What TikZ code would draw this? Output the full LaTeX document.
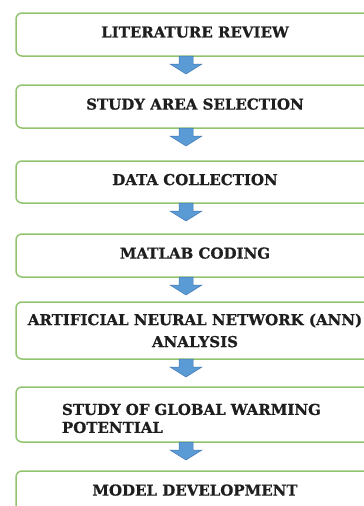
\documentclass[tikz,border=0pt]{standalone}
\usepackage{fontspec}
\setmainfont{DejaVu Serif}[BoldFeatures={FakeBold=0.8}]
\usetikzlibrary{positioning, calc}
\definecolor{boxgreen}{RGB}{146, 196, 111}
\definecolor{flowblue}{RGB}{91, 155, 213}
\definecolor{flowedge}{RGB}{65, 119, 178}
\definecolor{inkgray}{RGB}{30, 30, 30}
\tikzstyle{stage}  = [rectangle, rounded corners=6pt, minimum width=358pt, minimum height=43pt,
                      inner sep=0pt, outer sep=0pt, draw=boxgreen, line width=1.5pt, text=inkgray,
                      align=center, font=\bfseries\fontsize{15}{22}\selectfont]
\tikzstyle{stage1} = [stage, text depth=5pt]
\tikzstyle{flow}   = [draw=flowedge, fill=flowblue, line width=0.5pt,
                      to path={($(\tikztostart)+(-7pt,0)$) -- ++(14pt,0) -- ++(0,-8pt)
                               -- ++(9pt,0) -- ++(-16pt,-10pt) -- ++(-16pt,10pt)
                               -- ++(9pt,0) -- cycle}]

\begin{document}
\begin{tikzpicture}[node distance=29pt]
  \useasboundingbox (0,0) rectangle (364pt,-506pt);
  \coordinate (axis) at (186pt,0);

  \node (lit)   [stage1, anchor=north west] at (16pt,-13pt) {LITERATURE REVIEW};
  \node (area)  [stage1, below=of lit]                      {STUDY AREA SELECTION};
  \node (data)  [stage1, below=33pt of area, minimum height=42pt] {DATA COLLECTION};
  \node (code)  [stage1, below=31pt of data]                {MATLAB CODING};
  \node (ann)   [stage, below=25pt of code, minimum height=57pt]
                {ARTIFICIAL NEURAL NETWORK (ANN)\\ANALYSIS};
  \node (gwp)   [stage, below=28pt of ann, minimum height=55pt, text height=19pt,
                 align=left, text width=266pt, inner xsep=46pt,
                 font=\bfseries\fontsize{15}{18}\selectfont]
                {STUDY OF GLOBAL WARMING\\POTENTIAL};
  \node (model) [stage1, below=of gwp]                      {MODEL DEVELOPMENT};

  % block arrows between the stages
  \draw [flow] (lit.south -| axis)  to (area.north -| axis);
  \draw [flow] (area.south -| axis) to (data.north -| axis);
  \draw [flow] (data.south -| axis) to (code.north -| axis);
  \draw [flow] (code.south -| axis) to (ann.north -| axis);
  \draw [flow] (ann.south -| axis)  to (gwp.north -| axis);
  \draw [flow] (gwp.south -| axis)  to (model.north -| axis);
\end{tikzpicture}
\end{document}
